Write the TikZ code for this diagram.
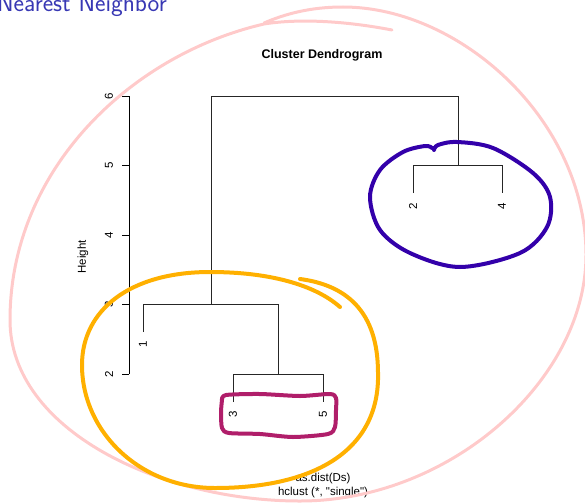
\documentclass[tikz,border=0pt]{standalone}
\usepackage{fontspec}
\newfontfamily\rfont{Liberation Sans}
\definecolor{titleblue}{HTML}{3838B4}
\definecolor{inkpink}{HTML}{FFCACA}
\definecolor{inkorange}{HTML}{FFB000}
\definecolor{inkpurple}{HTML}{3300AA}
\definecolor{inkmagenta}{HTML}{B01E6A}
\tikzset{
  dend/.style={line width=0.8pt, black!85},
  axisline/.style={line width=0.8pt, black},
  plotlbl/.style={font=\rfont\fontsize{11.5}{13}\selectfont, inner sep=0pt},
  vlbl/.style={plotlbl, rotate=90},
  ink/.style={line cap=round, line join=round},
}
\begin{document}
\begin{tikzpicture}[x=1pt,y=-1pt]
\useasboundingbox (0,0) rectangle (585,503);

% frame title
\node[anchor=base east, inner sep=0pt, text=titleblue,
      font=\sffamily\fontsize{25}{27}\selectfont] (frametitle) at (167,12) {Nearest Neighbor};

% plot titles
\node[anchor=base, inner sep=0pt, font=\rfont\bfseries\fontsize{12.5}{14}\selectfont]
  (maintitle) at (322,59) {Cluster Dendrogram};
\node[plotlbl, anchor=base] (sub1) at (323,481) {as.dist(Ds)};
\node[plotlbl, anchor=base] (sub2) at (323,495) {hclust (*, "single")};
\node[vlbl] (ylab) at (83,257) {Height};

% height axis
\coordinate (ax6) at (129,96);
\coordinate (ax2) at (129,374);
\draw[axisline] (ax6) -- (ax2);
\foreach \h/\yy in {2/374,3/304.5,4/235,5/165.5,6/96}{
  \coordinate (t\h) at (129,\yy);
  \coordinate (tl\h) at (122,\yy);
  \draw[axisline] (t\h) -- (tl\h);
  \node[vlbl] (tick\h) at (109,\yy) {\h};
}

% merge points and leaves
\coordinate (rootL) at (211,96);
\coordinate (rootR) at (458,96);
\coordinate (m1L) at (211,304.5);
\coordinate (m24) at (458,165.5);
\coordinate (a1) at (143,304.5);
\coordinate (a35) at (278,304.5);
\coordinate (b35) at (278,374);
\coordinate (c3) at (233,374);
\coordinate (c5) at (323,374);
\coordinate (d2) at (413,165.5);
\coordinate (d4) at (502,165.5);
\coordinate (leaf1) at (143,332);
\coordinate (leaf3) at (233,402);
\coordinate (leaf5) at (323,402);
\coordinate (leaf2) at (413,193);
\coordinate (leaf4) at (502,193);

% dendrogram branches
\draw[dend] (m1L) -- (rootL) -- (rootR) -- (m24);
\draw[dend] (leaf1) -- (a1) -- (a35) -- (b35);
\draw[dend] (leaf3) -- (c3) -- (c5) -- (leaf5);
\draw[dend] (leaf2) -- (d2) -- (d4) -- (leaf4);

% leaf labels
\node[vlbl] (lab1) at (143,344) {1};
\node[vlbl] (lab3) at (233,414) {3};
\node[vlbl] (lab5) at (323,414) {5};
\node[vlbl] (lab2) at (413,206) {2};
\node[vlbl] (lab4) at (502,206) {4};

% hand-drawn loop around the whole tree
\draw[ink, inkpink, line width=3pt]
  (392,30) .. controls (340,20) and (295,19) .. (264,24)
  .. controls (130,55) and (10,170) .. (10,320)
  .. controls (10,430) and (160,501) .. (300,501)
  .. controls (450,501) and (586,380) .. (586,255)
  .. controls (586,120) and (460,7) .. (343,7)
  .. controls (310,7) and (285,14) .. (264,23);

% loop around {1,3,5}
\draw[ink, inkorange, line width=4pt]
  (340,307) .. controls (315,285) and (270,272) .. (210,272)
  .. controls (130,272) and (82,310) .. (82,365)
  .. controls (82,432) and (140,488) .. (215,488)
  .. controls (315,488) and (380,450) .. (378,373)
  .. controls (378,310) and (345,285) .. (300,279);

% loop around {2,4}
\draw[ink, inkpurple, line width=4pt, smooth, tension=0.55] plot coordinates {
  (434,150) (438,145) (457,142) (493,148) (533,173) (550,197) (547,227)
  (520,253) (460,267) (410,253) (380,230) (370,197) (380,170) (403,152)
  (425,146) (432,148)};

% box around {3,5}
\draw[ink, inkmagenta, line width=4pt, smooth, tension=0.45] plot coordinates {
  (222,400) (226,395) (260,394) (300,396) (330,394) (336,398) (336,410)
  (335,427) (328,434) (293,437) (260,434) (229,433) (222,428) (221,412) (222,400)};
\end{tikzpicture}
\end{document}
